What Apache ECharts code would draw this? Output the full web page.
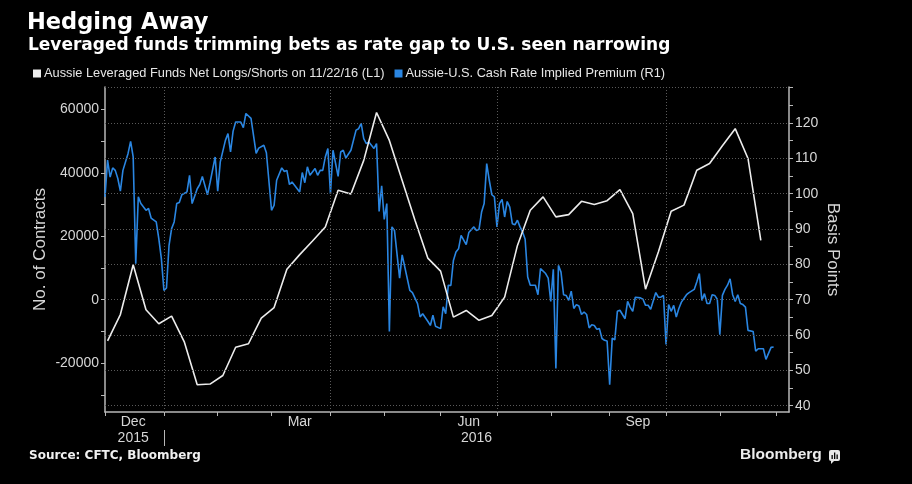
<!DOCTYPE html>
<html>
<head>
<meta charset="utf-8">
<script src="https://cdn.jsdelivr.net/npm/echarts@6/dist/echarts.min.js"></script>
<style>
html,body{margin:0;padding:0;background:#000;}
#chart{width:912px;height:484px;}
</style>
</head>
<body>
<div id="chart"></div>
<script>
// ---------- DATA ----------
const titleText = 'Hedging Away';
const subtitleText = 'Leveraged funds trimming bets as rate gap to U.S. seen narrowing';
const sourceText = 'Source: CFTC, Bloomberg';
const seriesNames = ['Aussie Leveraged Funds Net Longs/Shorts on 11/22/16 (L1)', 'Aussie-U.S. Cash Rate Implied Premium (R1)'];

// x axis: business days from this date
const startDate = '2015-12-01';
const businessDayCount = 268;
const labelMonths = ['2015-12', '2016-03', '2016-06', '2016-09'];
const labelTexts = ['Dec', 'Mar', 'Jun', 'Sep'];
const yearTexts = ['2015', '2016'];
const gridMonths = ['2016-01', '2016-04', '2016-07', '2016-10'];

// left axis (contracts)
const leftLabels = [-20000, 0, 20000, 40000, 60000];
const leftTicks = [-30000, -20000, -10000, 0, 10000, 20000, 30000, 40000, 50000, 60000];
// right axis (basis points)
const rightLabels = [40, 50, 60, 70, 80, 90, 100, 110, 120];
const rightTicks = [40, 45, 50, 55, 60, 65, 70, 75, 80, 85, 90, 95, 100, 105, 110, 115, 120, 125, 130];

// weekly CFTC net positions (one value per week, first week of Dec 2015 .. 11/22/16)
const whiteFirstDay = 1;   // business-day offset of first weekly reading
const whiteStep = 5;       // business days per week
const whiteValues = [
  -13000, -4700, 11000, -3200, -7600, -5200, -13400, -26800, -26600, -23900,
  -15000, -13900, -5800, -2500, 9600, 14200, 18500, 22900, 34500, 33300,
  43900, 59000, 50200, 37600, 25000, 13100, 9000, -5500, -3400, -6500,
  -5000, 800, 17100, 28200, 32400, 26100, 26800, 31000, 30000, 31200,
  34700, 27100, 3300, 15000, 27900, 29800, 40800, 42900, 48500, 53900,
  44500, 18700
];

// daily implied premium: business-day offset and value (bp)
const blueDays = [
  0,1,2,3,4,5,6,7,9,10,11,12,13,14,16,17,18,20,21,22,23,24,25,26,27,28,29,30,32,33,34,36,37,38,40,41,43,44,45,47,48,49,50,51,53,54,55,57,59,60,62,63,65,66,67,69,70,71,72,73,76,77,78,79,80,82,83,84,85,86,87,88,89,91,92,93,94,96,98,99,100,101,102,103,105,106,107,108,109,110,111,112,113,115,116,119,120,122,123,124,126,127,128,129,131,132,133,134,135,136,137,138,139,141,142,144,145,146,147,148,149,150,151,152,153,154,155,156,157,158,159,160,161,162,163,164,165,166,168,169,170,172,173,174,175,176,177,178,179,180,181,182,183,184,185,186,187,188,189,190,191,192,193,194,195,196,197,198,199,200,201,203,204,205,206,207,209,210,211,212,213,215,216,217,218,219,220,221,222,223,224,225,227,228,230,231,232,233,234,235,236,237,238,239,240,241,242,243,244,245,246,247,248,249,250,251,253,254,255,257,258,260,261
];
const blueValues = [
  99.1,109.5,104.7,107.3,106.6,104.3,100.7,106.6,111.4,114.8,110.4,80.2,99.1,97.2,95.3,95.8,93.1,92.0,87.3,81.6,72.6,73.3,85.4,90.1,92.0,97.2,97.5,99.7,100.5,105.2,97.2,101.4,102.6,104.9,99.7,103.1,110.4,100.7,109.0,115.1,117.0,111.8,117.7,120.3,120.3,118.7,122.7,121.3,111.4,112.9,113.7,111.6,95.3,96.7,103.8,107.3,106.3,106.6,102.6,103.3,100.5,106.0,103.1,107.6,105.2,107.1,105.2,106.6,106.6,110.4,112.8,100.0,112.3,104.9,111.8,112.3,110.1,112.3,118.0,118.4,119.9,115.6,114.2,114.6,112.8,114.2,95.0,102.2,92.7,97.2,61.0,90.6,89.6,76.1,82.7,72.6,72.0,68.9,65.1,66.0,63.9,62.7,65.6,62.5,61.8,68.0,66.0,74.1,74.0,81.1,83.5,84.4,88.2,85.6,89.0,90.6,89.6,89.9,94.8,97.2,108.5,103.8,99.7,99.1,90.6,97.2,98.4,93.4,97.8,96.2,91.5,91.2,92.5,90.6,89.2,87.1,76.4,74.1,74.1,71.4,78.8,77.4,76.1,69.5,78.6,50.5,79.7,77.8,71.4,71.2,69.8,72.4,67.5,68.6,68.2,65.8,66.5,65.8,62.0,62.9,62.7,61.6,61.8,59.0,58.5,58.3,45.9,59.1,58.6,66.7,67.0,64.6,69.5,67.9,66.7,70.7,70.5,70.1,68.4,68.4,67.3,72.0,70.7,70.7,71.2,57.3,68.6,66.7,68.4,65.1,67.5,69.3,71.4,72.0,72.9,75.0,77.4,69.8,71.7,68.9,68.9,71.4,71.2,70.1,60.1,71.2,72.9,74.1,75.9,71.4,69.5,71.4,68.9,68.6,67.9,61.3,61.0,55.4,56.1,56.1,53.1,56.5,56.6
];

// ---------- BUILD ----------
function businessDays(start, n) {
  const out = [];
  const d = new Date(start + 'T00:00:00Z');
  while (out.length < n) {
    const wd = d.getUTCDay();
    if (wd !== 0 && wd !== 6) out.push(d.toISOString().slice(0, 10));
    d.setUTCDate(d.getUTCDate() + 1);
  }
  return out;
}
const dates = businessDays(startDate, businessDayCount);
const monthStart = {}, monthLen = {};
dates.forEach((d, i) => {
  const m = d.slice(0, 7);
  if (monthStart[m] === undefined) { monthStart[m] = i; monthLen[m] = 0; }
  monthLen[m]++;
});
const tickSet = new Set(Object.values(monthStart));
const labelAt = {};
labelMonths.forEach((m, j) => { labelAt[monthStart[m] + Math.floor(monthLen[m] / 2)] = labelTexts[j]; });
const yearAt = {};
yearTexts.forEach(y => {
  const idx = dates.map((d, i) => d.startsWith(y) ? i : -1).filter(i => i >= 0);
  yearAt[Math.floor((idx[0] + idx[idx.length - 1] + 1) / 2)] = y;
});
const yearBreak = monthStart['2016-01'];

const whiteData = whiteValues.map((v, k) => [whiteFirstDay + whiteStep * k, v]);
const blueData = blueDays.map((d, j) => [d, blueValues[j]]);

const gridColor = '#5a5a5a';
const axisColor = '#b8b8b8';
const labelColor = '#d6d6d6';
const fontFam = '"Liberation Sans", Arial, sans-serif';
const boldFam = '"DejaVu Sans", sans-serif';

const markData = rightLabels.map(v => ({ yAxis: v }))
  .concat([{ yAxis: 130.2 }])
  .concat(gridMonths.map(m => ({ xAxis: dates[monthStart[m]] })));

const chart = echarts.init(document.getElementById('chart'), null, { renderer: 'canvas' });
chart.setOption({
  backgroundColor: '#000',
  animation: false,
  textStyle: { fontFamily: fontFam },
  graphic: [
    { type: 'text', left: 27, top: 12, style: { text: titleText, fill: '#fff', font: 'bold 22.5px ' + boldFam } },
    { type: 'text', left: 28, top: 37, style: { text: subtitleText, fill: '#fff', font: 'bold 17px ' + boldFam } },
    { type: 'text', left: 29, top: 450, style: { text: sourceText, fill: '#f0f0f0', font: 'bold 12px ' + boldFam } },
    { type: 'text', left: 740, top: 447, style: { text: 'Bloomberg', fill: '#ececec', font: 'bold 15.5px ' + fontFam } },
    { type: 'rect', shape: { x: 829, y: 450, width: 11, height: 11, r: 2 }, style: { fill: '#e8e8e8' } },
    { type: 'polygon', shape: { points: [[831, 460], [835, 460], [831, 464]] }, style: { fill: '#e8e8e8' } },
    { type: 'rect', shape: { x: 831.5, y: 455, width: 1.3, height: 4 }, style: { fill: '#000' } },
    { type: 'rect', shape: { x: 834, y: 452.5, width: 1.3, height: 6.5 }, style: { fill: '#000' } },
    { type: 'rect', shape: { x: 836.5, y: 454.5, width: 1.3, height: 4.5 }, style: { fill: '#000' } }
  ],
  legend: {
    left: 33, top: 67, padding: 0, itemGap: 10,
    icon: 'rect', itemWidth: 8, itemHeight: 8,
    textStyle: { color: '#e6e6e6', fontSize: 12.8, fontFamily: fontFam, padding: [0, 0, 0, -2] },
    data: seriesNames
  },
  grid: { left: 105, right: 123, top: 87, bottom: 72, containLabel: false },
  xAxis: [
    {
      type: 'category', data: dates, boundaryGap: false, position: 'bottom',
      axisLine: { show: true, onZero: false, lineStyle: { color: axisColor, width: 1.5 } },
      axisTick: { show: true, interval: (i) => tickSet.has(i), length: 4, lineStyle: { color: axisColor } },
      axisLabel: {
        show: true, interval: (i) => labelAt[i] !== undefined,
        formatter: (v, i) => labelAt[i] || '',
        color: labelColor, fontSize: 14, margin: 3, fontFamily: fontFam
      },
      splitLine: { show: false }
    },
    {
      type: 'category', data: dates, boundaryGap: false, position: 'bottom', offset: 18,
      axisLine: { show: false, onZero: false },
      axisTick: { show: true, interval: (i) => i === yearBreak, length: 16, lineStyle: { color: axisColor } },
      axisLabel: {
        show: true, interval: (i) => yearAt[i] !== undefined,
        formatter: (v, i) => yearAt[i] || '',
        color: labelColor, fontSize: 14, margin: 1, fontFamily: fontFam
      },
      splitLine: { show: false }
    }
  ],
  yAxis: [
    {
      type: 'value', position: 'left', min: -35412, max: 67039,
      name: 'No. of Contracts', nameLocation: 'middle', nameGap: 56, nameRotate: 90, nameMoveOverlap: false,
      nameTextStyle: { color: labelColor, fontSize: 17, fontFamily: fontFam },
      axisLine: { show: true, onZero: false, lineStyle: { color: axisColor, width: 1.5 } },
      axisTick: { show: true, customValues: leftTicks, length: 4, lineStyle: { color: axisColor } },
      axisLabel: { show: true, customValues: leftLabels, formatter: v => String(v), color: labelColor, fontSize: 14, margin: 6 },
      splitLine: { show: false }
    },
    {
      type: 'value', position: 'right', min: 38.2, max: 130.2,
      name: 'Basis Points', nameLocation: 'middle', nameGap: 35, nameRotate: -90, nameMoveOverlap: false,
      nameTextStyle: { color: labelColor, fontSize: 17, fontFamily: fontFam },
      axisLine: { show: true, onZero: false, lineStyle: { color: axisColor, width: 1.5 } },
      axisTick: { show: true, customValues: rightTicks, length: 4, lineStyle: { color: axisColor } },
      axisLabel: { show: true, customValues: rightLabels, formatter: v => String(v), color: labelColor, fontSize: 14, margin: 6 },
      splitLine: { show: false }
    }
  ],
  series: [
    {
      name: seriesNames[1], type: 'line', xAxisIndex: 0, yAxisIndex: 1,
      data: blueData, showSymbol: false, symbol: 'none', z: 2,
      itemStyle: { color: '#2a86e2' },
      lineStyle: { color: '#2a86e2', width: 1.6 },
      markLine: {
        silent: true, symbol: 'none', label: { show: false }, animation: false,
        lineStyle: { color: gridColor, type: [1, 2], width: 1 },
        emphasis: { disabled: true },
        data: markData
      }
    },
    {
      name: seriesNames[0], type: 'line', xAxisIndex: 0, yAxisIndex: 0,
      data: whiteData, showSymbol: false, symbol: 'none', z: 3,
      itemStyle: { color: '#ececec' },
      lineStyle: { color: '#ececec', width: 1.6 }
    }
  ]
});
</script>
</body>
</html>
